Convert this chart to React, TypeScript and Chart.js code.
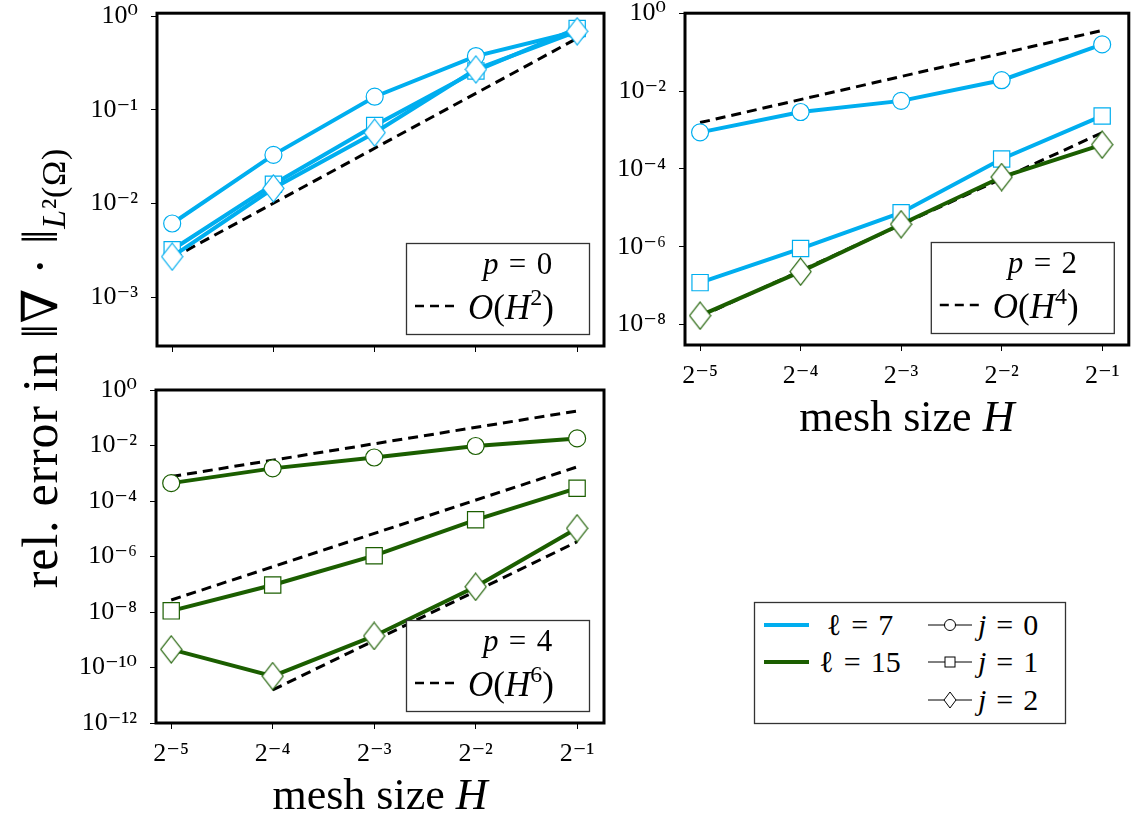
import React, { useEffect, useRef } from 'react';
import { Chart, registerables } from 'chart.js';

Chart.register(...registerables);

// ---------- data ----------
const H_EXP = [-5, -4, -3, -2, -1]; // mesh size H = 2^H_EXP
const X_TICKS = [-5, -4, -3, -2, -1];
const REF_X_FULL = [-5, -1];
const REF_X_LATE = [-4, -1];

// p = 0 (top-left), l = 7
const P0_L7_J0 = [6.1e-3, 0.033, 0.138, 0.375, 0.69];
const P0_L7_J1 = [3.2e-3, 0.016, 0.068, 0.26, 0.74];
const P0_L7_J2 = [2.7e-3, 0.0145, 0.057, 0.27, 0.69];
const P0_REF = [2.6e-3, 0.58];
const P0_Y_TICKS = [1e-3, 1e-2, 1e-1, 1];

// p = 2 (top-right)
const P2_L7_J0 = [8.7e-4, 2.9e-3, 5.6e-3, 0.019, 0.158];
const P2_L7_J1 = [1.2e-7, 9e-7, 7.5e-6, 1.8e-4, 2.3e-3];
const P2_L15_J2 = [1.7e-8, 2.3e-7, 3.8e-6, 6.2e-5, 4.2e-4];
const P2_REF_A = [1.55e-3, 0.36];
const P2_REF_B = [1.6e-8, 8.5e-4];
const P2_Y_TICKS = [1e-8, 1e-6, 1e-4, 1e-2, 1];

// p = 4 (bottom-left), l = 15
const P4_L15_J0 = [4.4e-4, 1.5e-3, 3.7e-3, 9.6e-3, 0.018];
const P4_L15_J1 = [1.1e-8, 9.4e-8, 1.07e-6, 2.1e-5, 2.9e-4];
const P4_L15_J2 = [4.5e-10, 4.9e-11, 1.37e-9, 8.1e-8, 1.04e-5];
const P4_REF_A = [7.6e-4, 0.175];
const P4_REF_B = [2.7e-8, 1.7e-3];
const P4_REF_C = [1.55e-11, 3.4e-6];
const P4_Y_TICKS = [1e-12, 1e-10, 1e-8, 1e-6, 1e-4, 1e-2, 1];

// ---------- styles ----------
const CYAN = '#00AEEF';
const GREEN = '#1B5E00';
const SERIF = '"Liberation Serif", "DejaVu Serif", serif';
const SP = '\u2004';

const SUP: Record<string, string> = {
  '-': '\u207B', '0': '\u2070', '1': '\u00B9', '2': '\u00B2', '3': '\u00B3',
  '4': '\u2074', '5': '\u2075', '6': '\u2076', '7': '\u2077', '8': '\u2078', '9': '\u2079',
};
const sup = (n: number) => String(n).split('').map((c) => SUP[c] || c).join('');

const pts = (xs: number[], ys: number[]) => xs.map((x, i) => ({ x, y: ys[i] }));

function makeDiamond(color: string) {
  const w = 21, h = 27;
  const c = document.createElement('canvas');
  c.width = w + 2;
  c.height = h + 2;
  const g = c.getContext('2d')!;
  g.beginPath();
  g.moveTo(c.width / 2, 1);
  g.lineTo(c.width - 1, c.height / 2);
  g.lineTo(c.width / 2, c.height - 1);
  g.lineTo(1, c.height / 2);
  g.closePath();
  g.fillStyle = '#fff';
  g.fill();
  g.lineWidth = 1.2;
  g.strokeStyle = color;
  g.stroke();
  return c;
}

type Run = { t: string; it?: boolean; sup?: boolean };
function runFont(r: Run, size: number) {
  const s = r.sup ? Math.round(size * 0.68) : size;
  return `${r.it ? 'italic ' : ''}${s}px ${SERIF}`;
}
function drawRuns(ctx: CanvasRenderingContext2D, runs: Run[], x: number, y: number, size: number, center = false) {
  let total = 0;
  for (const r of runs) {
    ctx.font = runFont(r, size);
    total += ctx.measureText(r.t).width;
  }
  let cx = center ? x - total / 2 : x;
  ctx.fillStyle = '#000';
  ctx.textBaseline = 'alphabetic';
  ctx.textAlign = 'left';
  for (const r of runs) {
    ctx.font = runFont(r, size);
    ctx.fillText(r.t, cx, r.sup ? y - size * 0.4 : y);
    cx += ctx.measureText(r.t).width;
  }
}

const decorPlugin = {
  id: 'decor',
  afterDatasetsDraw(chart: any, _args: any, opts: any) {
    const { ctx, chartArea: a } = chart;
    ctx.save();
    // inner legend
    if (opts.p !== undefined) {
      const bw = 183, bh = 91;
      const bx = a.right - 15 - bw, by = a.bottom - 12 - bh;
      ctx.fillStyle = '#fff';
      ctx.fillRect(bx, by, bw, bh);
      ctx.lineWidth = 1.3;
      ctx.strokeStyle = '#333';
      ctx.strokeRect(bx + 0.5, by + 0.5, bw, bh);
      drawRuns(ctx, [{ t: 'p', it: true }, { t: `${SP}=${SP}${opts.p}` }], bx + 77, by + 31, 31);
      ctx.setLineDash([9, 6]);
      ctx.lineWidth = 2.5;
      ctx.strokeStyle = '#000';
      ctx.beginPath();
      ctx.moveTo(bx + 9, by + 63);
      ctx.lineTo(bx + 52, by + 63);
      ctx.stroke();
      ctx.setLineDash([]);
      drawRuns(
        ctx,
        [{ t: 'O', it: true }, { t: '(' }, { t: 'H', it: true }, { t: String(opts.k), sup: true }, { t: ')' }],
        bx + 62, by + 76, 35,
      );
    }
    // frame
    ctx.lineWidth = 3;
    ctx.strokeStyle = '#000';
    ctx.strokeRect(a.left, a.top, a.right - a.left, a.bottom - a.top);
    // x title
    if (opts.xTitle) {
      drawRuns(ctx, [{ t: 'mesh size ' }, { t: 'H', it: true }], (a.left + a.right) / 2, a.bottom + 86, 44, true);
    }
    ctx.restore();
  },
};

function series(vals: number[], color: string, style: any, radius: number) {
  return {
    data: pts(H_EXP, vals),
    borderColor: color,
    borderWidth: 4,
    pointStyle: style,
    pointRadius: radius,
    pointHoverRadius: radius,
    pointBackgroundColor: '#fff',
    pointBorderColor: color,
    pointBorderWidth: 1.2,
    tension: 0,
    fill: false,
  };
}
function refLine(xs: number[], vals: number[]) {
  return {
    data: pts(xs, vals),
    borderColor: '#000',
    borderWidth: 3,
    borderDash: [10, 6],
    pointRadius: 0,
    tension: 0,
    fill: false,
  };
}

const gridOpts = {
  display: true,
  drawOnChartArea: false,
  drawTicks: true,
  tickLength: 6,
  color: '#000',
  lineWidth: 1,
};

function makeConfig(o: any) {
  return {
    type: 'line',
    data: { datasets: o.datasets },
    plugins: [decorPlugin],
    options: {
      responsive: false,
      animation: false,
      devicePixelRatio: 1,
      layout: { padding: { top: o.padTop, right: o.padRight, left: 0, bottom: 0 } },
      plugins: {
        legend: { display: false },
        tooltip: { enabled: false },
        decor: { p: o.p, k: o.k, xTitle: o.xTitle },
      },
      scales: {
        x: {
          type: 'linear',
          min: -5.15,
          max: -0.735,
          afterBuildTicks: (s: any) => {
            s.ticks = X_TICKS.map((v) => ({ value: v }));
          },
          afterFit: (s: any) => {
            s.height = o.xHeight;
            s.paddingLeft = 0;
            s.paddingRight = 0;
            s.paddingTop = 0;
            s.paddingBottom = 0;
          },
          grid: gridOpts,
          border: { display: false },
          ticks: {
            display: o.xLabels,
            autoSkip: false,
            maxRotation: 0,
            padding: 10,
            color: '#000',
            font: { family: SERIF, size: 26 },
            callback: (v: number) => '2' + sup(v),
          },
        },
        y: {
          type: 'logarithmic',
          min: o.yMin,
          max: o.yMax,
          afterBuildTicks: (s: any) => {
            s.ticks = o.yTicks.map((v: number) => ({ value: v }));
          },
          afterFit: (s: any) => {
            s.width = o.yWidth;
            s.paddingTop = 0;
            s.paddingBottom = 0;
            s.paddingLeft = 0;
            s.paddingRight = 0;
          },
          grid: gridOpts,
          border: { display: false },
          ticks: {
            autoSkip: false,
            padding: 13,
            color: '#000',
            font: { family: SERIF, size: 26 },
            callback: (v: number) => '10' + sup(Math.round(Math.log10(v))),
          },
        },
      },
    },
  };
}

function Panel({ left, top, width, height, build }: any) {
  const ref = useRef<HTMLCanvasElement>(null);
  useEffect(() => {
    const chart = new Chart(ref.current as HTMLCanvasElement, build() as any);
    return () => chart.destroy();
  }, []);
  return (
    <canvas
      ref={ref}
      width={width}
      height={height}
      style={{ position: 'absolute', left, top, width, height }}
    />
  );
}

const buildP0 = () => {
  const dc = makeDiamond(CYAN);
  return makeConfig({
    datasets: [
      series(P0_L7_J2, CYAN, dc, 12),
      series(P0_L7_J1, CYAN, 'rect', 11.5),
      series(P0_L7_J0, CYAN, 'circle', 8.5),
      refLine(REF_X_FULL, P0_REF),
    ],
    yMin: 3.0e-4,
    yMax: 1.076,
    yTicks: P0_Y_TICKS,
    xLabels: false,
    yWidth: 157,
    xHeight: 26,
    padTop: 12,
    padRight: 16,
    p: 0,
    k: 2,
  });
};

const buildP2 = () => {
  const dg = makeDiamond(GREEN);
  return makeConfig({
    datasets: [
      series(P2_L15_J2, GREEN, dg, 12),
      series(P2_L7_J1, CYAN, 'rect', 11.5),
      series(P2_L7_J0, CYAN, 'circle', 8.5),
      refLine(REF_X_FULL, P2_REF_B),
      refLine(REF_X_FULL, P2_REF_A),
    ],
    yMin: 3.0e-9,
    yMax: 1,
    yTicks: P2_Y_TICKS,
    xLabels: true,
    yWidth: 95,
    xHeight: 95,
    padTop: 12,
    padRight: 9,
    p: 2,
    k: 4,
    xTitle: true,
  });
};

const buildP4 = () => {
  const dg = makeDiamond(GREEN);
  return makeConfig({
    datasets: [
      series(P4_L15_J2, GREEN, dg, 12),
      series(P4_L15_J1, GREEN, 'rect', 11.5),
      series(P4_L15_J0, GREEN, 'circle', 8.5),
      refLine(REF_X_LATE, P4_REF_C),
      refLine(REF_X_FULL, P4_REF_B),
      refLine(REF_X_FULL, P4_REF_A),
    ],
    yMin: 1e-12,
    yMax: 1,
    yTicks: P4_Y_TICKS,
    xLabels: true,
    yWidth: 156,
    xHeight: 95,
    padTop: 18,
    padRight: 16,
    p: 4,
    k: 6,
    xTitle: true,
  });
};

function GlobalLegend() {
  const rows = [625, 662, 700];
  return (
    <svg
      width={1142}
      height={818}
      style={{ position: 'absolute', left: 0, top: 0, pointerEvents: 'none' }}
      fontFamily={SERIF}
    >
      <text
        transform="translate(57,368) rotate(-90)"
        textAnchor="middle"
        fontSize={50}
        letterSpacing={0.8}
        fill="#000"
      >
        {'rel. error in \u2016\u2207 \u00B7 \u2016'}
        <tspan fontSize={34} dy={8}>
          <tspan fontStyle="italic">L</tspan>
          {'\u00B2(\u03A9)'}
        </tspan>
      </text>

      <rect x={754.5} y={602.5} width={311} height={121} fill="#fff" stroke="#333" strokeWidth={1.3} />
      <line x1={764} x2={809} y1={rows[0]} y2={rows[0]} stroke={CYAN} strokeWidth={4} />
      <line x1={764} x2={809} y1={rows[1]} y2={rows[1]} stroke={GREEN} strokeWidth={4} />
      <text x={860} y={rows[0] + 10} textAnchor="middle" fontSize={30} fill="#000">
        {`\u2113${SP}=${SP}7`}
      </text>
      <text x={860} y={rows[1] + 10} textAnchor="middle" fontSize={30} fill="#000">
        {`\u2113${SP}=${SP}15`}
      </text>

      {rows.map((y) => (
        <line key={y} x1={928} x2={972} y1={y} y2={y} stroke="#000" strokeWidth={1} />
      ))}
      <circle cx={950} cy={rows[0]} r={5.5} fill="#fff" stroke="#000" strokeWidth={1} />
      <rect x={945} y={rows[1] - 5} width={10} height={10} fill="#fff" stroke="#000" strokeWidth={1} />
      <polygon
        points={`950,${rows[2] - 8} 956,${rows[2]} 950,${rows[2] + 8} 944,${rows[2]}`}
        fill="#fff"
        stroke="#000"
        strokeWidth={1}
      />
      {rows.map((y, i) => (
        <text key={'j' + i} x={978} y={y + 10} fontSize={30} fill="#000">
          <tspan fontStyle="italic">j</tspan>
          {`${SP}=${SP}${i}`}
        </text>
      ))}
    </svg>
  );
}

export default function App() {
  return (
    <div style={{ position: 'absolute', left: 0, top: 0, width: 1142, height: 818, background: '#fff' }}>
      <Panel left={0} top={0} width={620} height={372} build={buildP0} />
      <Panel left={590} top={0} width={552} height={440} build={buildP2} />
      <Panel left={0} top={372} width={620} height={446} build={buildP4} />
      <GlobalLegend />
    </div>
  );
}
